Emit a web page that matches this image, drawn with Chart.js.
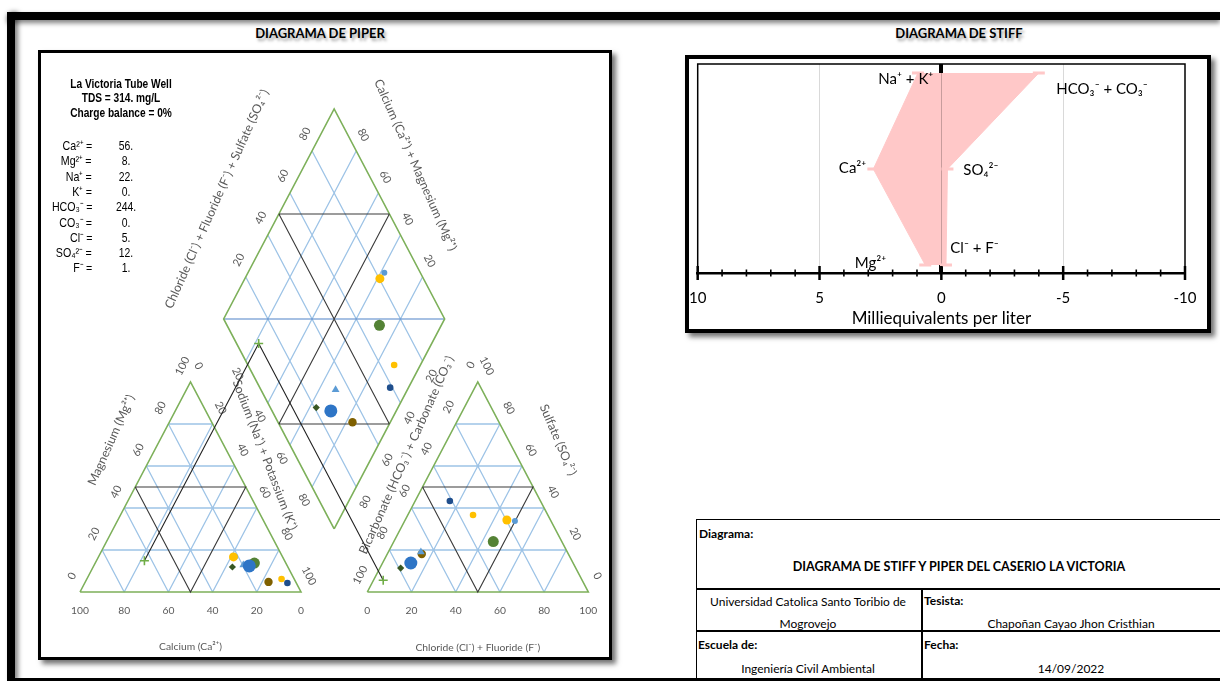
<!DOCTYPE html>
<html lang="es">
<head>
<meta charset="utf-8">
<title>Diagramas de Piper y Stiff - Caserío La Victoria</title>
<script src="https://cdn.jsdelivr.net/npm/chart.js@4.4.1/dist/chart.umd.min.js"></script>
<style>
  html, body { margin: 0; padding: 0; background: #fff; }
  body { width: 1220px; height: 681px; position: relative; overflow: hidden; font-family: Lato, "Liberation Sans", sans-serif; color: #000; }
  .abs { position: absolute; }
  .bar { background: #000; }
  .heading { font-weight: 700; font-size: 13px; white-space: nowrap; transform: translate(-50%, -50%);
             text-shadow: 2px 3px 3px rgba(0,0,0,0.35); }
  .box { box-sizing: border-box; border: 3px solid #000; background: #fff; box-shadow: 4px 4px 5px rgba(0,0,0,0.55); }
  .narrow { font-family: "Liberation Sans", Arial, sans-serif; white-space: nowrap; }
  .info-head { font-weight: 700; font-size: 13px; transform: translate(-50%, -50%) scaleX(0.78); }
  .ion { font-size: 13px; }
  .cell { font-size: 12px; white-space: nowrap; }
  .c { transform: translate(-50%, -50%); }
  .l { transform: translateY(-50%); }
  .b { font-weight: 700; }
  .line { background: #000; }
</style>
</head>
<body>

<!-- sheet frame -->
<div class="abs bar" style="left:7px;top:12px;width:1213px;height:8px;box-shadow:0 3px 5px rgba(0,0,0,0.5);"></div>
<div class="abs bar" style="left:7px;top:12px;width:8px;height:669px;box-shadow:3px 0 5px rgba(0,0,0,0.5);"></div>
<div class="abs bar" style="left:7px;top:678px;width:1213px;height:3px;"></div>

<div class="abs heading" style="left:320px;top:33px;">DIAGRAMA DE PIPER</div>
<div class="abs heading" style="left:959px;top:33px;">DIAGRAMA DE STIFF</div>

<!-- Piper panel -->
<div class="abs box" style="left:38px;top:50px;width:574px;height:610px;"></div>
<canvas id="piper" class="abs" width="568" height="604" style="left:41px;top:53px;"></canvas>
<div id="info"></div>

<!-- Stiff panel -->
<div class="abs box" style="left:685px;top:55px;width:526px;height:278px;border-width:4px;"></div>
<canvas id="stiff" class="abs" width="518" height="270" style="left:689px;top:59px;"></canvas>

<!-- title block -->
<div class="abs" style="left:696px;top:519px;width:540px;height:160px;box-sizing:border-box;border:1.5px solid #000;"></div>
<div class="abs line" style="left:696px;top:588px;width:530px;height:1.5px;"></div>
<div class="abs line" style="left:696px;top:630px;width:530px;height:1.5px;"></div>
<div class="abs line" style="left:921px;top:588px;width:1.5px;height:91px;"></div>
<div class="abs cell b l" style="left:699px;top:533px;">Diagrama:</div>
<div class="abs cell b c" style="left:959px;top:566px;font-size:12.6px;">DIAGRAMA DE STIFF Y PIPER DEL CASERIO LA VICTORIA</div>
<div class="abs cell c" style="left:808px;top:601px;">Universidad Catolica Santo Toribio de</div>
<div class="abs cell c" style="left:808px;top:623px;">Mogrovejo</div>
<div class="abs cell b l" style="left:924px;top:600px;">Tesista:</div>
<div class="abs cell c" style="left:1071px;top:623px;">Chapoñan Cayao Jhon Cristhian</div>
<div class="abs cell b l" style="left:698px;top:644px;">Escuela de:</div>
<div class="abs cell c" style="left:808px;top:668px;">Ingeniería Civil Ambiental</div>
<div class="abs cell b l" style="left:924px;top:644px;">Fecha:</div>
<div class="abs cell c" style="left:1071px;top:668px;">14/09/2022</div>

<script>
// ---------------- data ----------------
// Sample header and dissolved ions (mg/L) of the La Victoria well
const wellName = 'La Victoria Tube Well';
const wellTDS = 314;
const chargeBalance = 0;
const ionLabels = ['Ca²⁺', 'Mg²⁺', 'Na⁺', 'K⁺', 'HCO₃⁻', 'CO₃⁻', 'Cl⁻', 'SO₄²⁻', 'F⁻'];
const ionMgL = [56, 8, 22, 0, 244, 0, 5, 12, 1];

// Piper samples: percent of total meq for each ion group
const sampleIds = ['M-01', 'M-02', 'M-03', 'M-04', 'M-05', 'M-06', 'M-07', 'M-08', 'M-09', 'La Victoria'];
const caPct   = [22.2, 5.7, 4.0, 14.2, 17.2, 25.1, 12.3, 21.5, 19.7, 63.4];
const mgPct   = [16.7, 6.2, 4.3, 13.8, 12.4, 11.9, 4.8, 16.8, 12.8, 14.9];
const nakPct  = [61.1, 88.1, 91.7, 72.0, 70.4, 63.0, 82.9, 61.7, 67.5, 21.7];
const hco3Pct = [19.7, 33.8, 41.0, 31.0, 73.4, 79.2, 66.3, 16.3, 66.2, 90.0];
const so4Pct  = [34.3, 36.7, 43.3, 24.0, 13.8, 11.4, 18.1, 33.8, 19.1, 5.6];
const clPct   = [46.0, 29.5, 15.7, 45.0, 12.8, 9.4, 15.6, 49.9, 14.7, 4.4];
const projectedSample = 9; // sample drawn with projection lines

// Piper tick labels
const pctTicks = [0, 20, 40, 60, 80, 100];
const gridSteps = [20, 40, 60, 80];
const faciesSplit = 50;

// Stiff diagram (meq/L)
const stiffCationLabels = ['Na⁺ + K⁺', 'Ca²⁺', 'Mg²⁺'];
const stiffAnionLabels = ['HCO₃⁻ + CO₃⁻', 'SO₄²⁻', 'Cl⁻ + F⁻'];
const cationMeq = [0.96, 2.79, 0.66];
const anionMeq = [4.00, 0.25, 0.19];
const stiffRows = [3, 2, 1];
const stiffTicks = [10, 5, 0, -5, -10];

// ---------------- styles ----------------
const markerColor = ['#FFC000', '#FFC000', '#1F4E8C', '#548235', '#2E75C6', '#385723', '#7F6000', '#5B9BD5', '#5B9BD5', '#70AD47'];
const markerStyle = ['circle', 'circle', 'circle', 'circle', 'circle', 'rectRot', 'circle', 'circle', 'triangle', 'cross'];
const markerRadius = [4.5, 3.3, 3.3, 5.5, 6.5, 3.6, 4.2, 3.0, 4.5, 4.5];
const markerLayer = [5, 4, 3, 10, 7, 2, 9, 6, 8, 1];

// ---------------- info block ----------------
(function buildInfo() {
  const host = document.getElementById('info');
  const heads = [wellName, 'TDS = ' + wellTDS + '. mg/L', 'Charge balance = ' + chargeBalance + '%'];
  heads.forEach((t, i) => {
    const d = document.createElement('div');
    d.className = 'abs narrow info-head';
    d.style.left = '121px';
    d.style.top = (83 + i * 14.3) + 'px';
    d.textContent = t;
    host.appendChild(d);
  });
  ionLabels.forEach((lab, i) => {
    const y = 145 + i * 15.3;
    const a = document.createElement('div');
    a.className = 'abs narrow ion';
    a.style.right = (1220 - 92) + 'px';
    a.style.top = y + 'px';
    a.style.transformOrigin = 'right center';
    a.style.transform = 'translateY(-50%) scaleX(0.82)';
    a.textContent = lab + ' =';
    host.appendChild(a);
    const v = document.createElement('div');
    v.className = 'abs narrow ion';
    v.style.left = '126px';
    v.style.top = y + 'px';
    v.style.transform = 'translate(-50%, -50%) scaleX(0.8)';
    v.textContent = ionMgL[i] + '.';
    host.appendChild(v);
  });
})();

// ---------------- Piper geometry ----------------
const SIDE = 100, GAP = 30, H = Math.sqrt(3) / 2;
function cationXY(ca, mg, na) { return { x: na + 0.5 * mg, y: H * mg }; }
function anionXY(hco3, so4, cl) { return { x: SIDE + GAP + cl + 0.5 * so4, y: H * so4 }; }
function diamondXY(caMg, so4Cl) { return { x: SIDE + GAP / 2 + 0.5 * (so4Cl - caMg), y: H * GAP + H * (caMg + so4Cl) }; }

function joinLines(lines) {
  const out = [];
  lines.forEach((pl, i) => { if (i) out.push({ x: NaN, y: NaN }); pl.forEach(p => out.push(p)); });
  return out;
}
function triangleGrid(f) {
  const lines = [];
  gridSteps.forEach(p => {
    lines.push([f(100 - p, p, 0), f(0, p, 100 - p)]);
    lines.push([f(100 - p, 0, p), f(0, 100 - p, p)]);
    lines.push([f(p, 0, 100 - p), f(p, 100 - p, 0)]);
  });
  return lines;
}
function diamondGrid() {
  const lines = [];
  gridSteps.forEach(p => {
    lines.push([diamondXY(p, 0), diamondXY(p, 100)]);
    lines.push([diamondXY(0, p), diamondXY(100, p)]);
  });
  return lines;
}
const triOutline = f => [f(100, 0, 0), f(0, 100, 0), f(0, 0, 100), f(100, 0, 0)];
const triFacies = f => { const s = faciesSplit; return [f(s, s, 0), f(0, s, s), f(s, 0, s), f(s, s, 0)]; };
const diamondOutline = [diamondXY(0, 0), diamondXY(100, 0), diamondXY(100, 100), diamondXY(0, 100), diamondXY(0, 0)];
const s50 = faciesSplit;
const diamondFacies = [
  [diamondXY(100, s50), diamondXY(s50, 100)],
  [diamondXY(s50, 0), diamondXY(0, s50)],
  [diamondXY(100, s50), diamondXY(0, s50)],
  [diamondXY(s50, 100), diamondXY(s50, 0)]
];

const samplePoints = sampleIds.map((id, i) => [
  cationXY(caPct[i], mgPct[i], nakPct[i]),
  anionXY(hco3Pct[i], so4Pct[i], clPct[i]),
  diamondXY(caPct[i] + mgPct[i], so4Pct[i] + clPct[i])
]);
const proj = samplePoints[projectedSample];

function lineSet(data, color, width, order) {
  return { type: 'scatter', data, showLine: true, borderColor: color, borderWidth: width,
           pointRadius: 0, fill: false, order, spanGaps: false };
}

const piperDatasets = [
  lineSet(joinLines([...triangleGrid(cationXY), ...triangleGrid(anionXY), ...diamondGrid()]), '#9DC3E6', 1.3, 100),
  lineSet(joinLines([[diamondXY(100, 0), diamondXY(0, 100)]]), '#4F81C8', 1.1, 95),
  lineSet(joinLines([triOutline(cationXY), triOutline(anionXY), diamondOutline]), '#7DB05A', 1.6, 90),
  lineSet(joinLines([triFacies(cationXY), triFacies(anionXY), ...diamondFacies]), '#3A3A3A', 1.1, 80),
  lineSet(joinLines([[proj[0], proj[2]], [proj[1], proj[2]]]), '#222222', 1.1, 75)
];
sampleIds.forEach((id, i) => {
  const cross = markerStyle[i] === 'cross';
  piperDatasets.push({
    type: 'scatter', label: id, data: samplePoints[i],
    pointStyle: markerStyle[i], pointRadius: markerRadius[i],
    backgroundColor: markerColor[i], borderColor: markerColor[i],
    borderWidth: cross ? 1.6 : 0, order: markerLayer[i]
  });
});

// Piper axis numbers and titles
const tickLabelSets = [
  { values: pctTicks, at: p => cationXY(p, 0, 100 - p), dx: 0, dy: 18.5, rot: 0 },
  { values: pctTicks, at: p => cationXY(100 - p, p, 0), dx: -8, dy: -16, rot: -63 },
  { values: pctTicks, at: p => cationXY(0, 100 - p, p), dx: 8, dy: -16, rot: 63 },
  { values: pctTicks, at: p => anionXY(100 - p, 0, p), dx: 0, dy: 18.5, rot: 0 },
  { values: pctTicks, at: p => anionXY(p, 100 - p, 0), dx: -7, dy: -17, rot: -63 },
  { values: pctTicks, at: p => anionXY(0, p, 100 - p), dx: 9, dy: -16, rot: 63 },
  { values: gridSteps, at: p => diamondXY(100, p), dx: -7, dy: -17, rot: -63 },
  { values: gridSteps, at: p => diamondXY(p, 100), dx: 7, dy: -16, rot: 63 },
  { values: gridSteps, at: p => diamondXY(100 - p, 0), dx: -8, dy: 13, rot: 63 },
  { values: gridSteps, at: p => diamondXY(0, 100 - p), dx: 9, dy: 15, rot: -63 }
];
const axisTitles = [
  { text: 'Calcium (Ca²⁺)', at: cationXY(50, 0, 50), dx: 0, dy: 55, rot: 0 },
  { text: 'Magnesium (Mg²⁺)', at: cationXY(50, 50, 0), dx: -24, dy: -47, rot: -66 },
  { text: 'Sodium (Na⁺) + Potassium (K⁺)', at: cationXY(0, 50, 50), dx: 19, dy: -32, rot: 69 },
  { text: 'Chloride (Cl⁻) + Fluoride (F⁻)', at: anionXY(50, 0, 50), dx: 0, dy: 56, rot: 0 },
  { text: 'Bicarbonate (HCO₃⁻) + Carbonate (CO₃⁻)', at: anionXY(50, 50, 0), dx: -16, dy: -32, rot: -66 },
  { text: 'Sulfate (SO₄²⁻)', at: anionXY(0, 50, 50), dx: 25, dy: -47, rot: 67 },
  { text: 'Chloride (Cl⁻) + Fluoride (F⁻) + Sulfate (SO₄²⁻)', at: diamondXY(100, 50), dx: -62, dy: -15, rot: -66 },
  { text: 'Calcium (Ca²⁺) + Magnesium (Mg²⁺)', at: diamondXY(50, 100), dx: 26, dy: -49, rot: 66 }
];

function drawText(ctx, text, x, y, rot) {
  ctx.save();
  ctx.translate(x, y);
  ctx.rotate(rot * Math.PI / 180);
  ctx.fillText(text, 0, 0);
  ctx.restore();
}

const piperLabels = {
  id: 'piperLabels',
  beforeDatasetsDraw(chart) {
    const { ctx, scales: { x, y } } = chart;
    ctx.save();
    ctx.fillStyle = '#595959';
    ctx.textAlign = 'center';
    ctx.textBaseline = 'middle';
    tickLabelSets.forEach(set => set.values.forEach(p => {
      const pt = set.at(p);
      ctx.font = (set.rot ? '11px' : '10.3px') + ' Lato, "Liberation Sans", sans-serif';
      drawText(ctx, String(p), x.getPixelForValue(pt.x) + set.dx, y.getPixelForValue(pt.y) + set.dy, set.rot);
    }));
    axisTitles.forEach(t => {
      ctx.font = (t.rot ? '12.3px' : '10.3px') + ' Lato, "Liberation Sans", sans-serif';
      drawText(ctx, t.text, x.getPixelForValue(t.at.x) + t.dx, y.getPixelForValue(t.at.y) + t.dy, t.rot);
    });
    ctx.restore();
  }
};

// plot window of the Piper canvas (canvas spans page x 41..609, y 53..657)
const PX_PER_U = 2.21, PX_PER_V = 2.425, ORIGIN_X = 80 - 41, ORIGIN_Y = 592 - 53;
new Chart(document.getElementById('piper'), {
  type: 'scatter',
  data: { datasets: piperDatasets },
  options: {
    responsive: false, animation: false, events: [],
    layout: { padding: 0, autoPadding: false },
    plugins: { legend: { display: false }, tooltip: { enabled: false } },
    scales: {
      x: { type: 'linear', display: false, min: -ORIGIN_X / PX_PER_U, max: (568 - ORIGIN_X) / PX_PER_U },
      y: { type: 'linear', display: false, min: -(604 - ORIGIN_Y) / PX_PER_V, max: ORIGIN_Y / PX_PER_V }
    }
  },
  plugins: [piperLabels]
});

// ---------------- Stiff diagram ----------------
const PINK = '#FFC8C8';
const stiffLabelLayout = {
  cation: [{ dx: -8, dy: 6 }, { dx: -75, dy: -1 }, { dx: -55, dy: -2 }],
  anion: [{ dx: 115, dy: 16 }, { dx: 22, dy: 1 }, { dx: 9, dy: -17 }]
};

const stiffDecor = {
  id: 'stiffDecor',
  afterDraw(chart) {
    const { ctx, chartArea: a, scales: { x, y } } = chart;
    ctx.save();
    ctx.strokeStyle = '#000';
    // plot frame
    ctx.lineWidth = 1.5;
    ctx.strokeRect(a.left, a.top, a.right - a.left, a.bottom - a.top);
    // tick marks crossing the value axis
    x.ticks.forEach(t => {
      const px = x.getPixelForValue(t.value);
      const major = stiffTicks.includes(t.value);
      const h = major ? 7 : 3.5;
      ctx.lineWidth = major ? 2.5 : 1.6;
      ctx.beginPath();
      ctx.moveTo(px, a.bottom - h);
      ctx.lineTo(px, a.bottom + h);
      ctx.stroke();
    });
    // ion labels
    const x0 = x.getPixelForValue(0);
    ctx.fillStyle = '#000';
    ctx.font = '15px Lato, "Liberation Sans", sans-serif';
    ctx.textBaseline = 'middle';
    ctx.textAlign = 'right';
    stiffCationLabels.forEach((t, i) => {
      const l = stiffLabelLayout.cation[i];
      ctx.fillText(t, x0 + l.dx, y.getPixelForValue(stiffRows[i]) + l.dy);
    });
    ctx.textAlign = 'left';
    stiffAnionLabels.forEach((t, i) => {
      const l = stiffLabelLayout.anion[i];
      ctx.fillText(t, x0 + l.dx, y.getPixelForValue(stiffRows[i]) + l.dy);
    });
    ctx.restore();
  }
};

function stiffSide(values, sign) {
  return {
    data: values.map((v, i) => ({ x: sign * v, y: stiffRows[i] })),
    fill: 'origin', backgroundColor: PINK, borderColor: PINK, borderWidth: 1,
    pointStyle: 'line', pointRadius: 6, pointBorderWidth: 3, pointBorderColor: PINK, pointBackgroundColor: PINK,
    tension: 0
  };
}

new Chart(document.getElementById('stiff'), {
  type: 'line',
  data: { datasets: [stiffSide(cationMeq, 1), stiffSide(anionMeq, -1)] },
  options: {
    indexAxis: 'y',
    responsive: false, animation: false, events: [],
    layout: { padding: { left: 8.5, right: 22, top: 5, bottom: 0 }, autoPadding: false },
    plugins: { legend: { display: false }, tooltip: { enabled: false } },
    scales: {
      x: {
        type: 'linear', reverse: true, min: -10, max: 10, z: 1,
        afterFit(scale) { scale.height = 56; },
        grid: {
          drawTicks: true, tickLength: 16, tickColor: 'rgba(0,0,0,0)',
          color: c => c.tick && c.tick.value === 0 ? '#000' : (c.tick && Math.abs(c.tick.value) === 5 ? '#D9D9D9' : 'rgba(0,0,0,0)'),
          lineWidth: c => c.tick && c.tick.value === 0 ? 4 : 1
        },
        border: { display: true, color: '#000', width: 2.5 },
        ticks: {
          stepSize: 1, autoSkip: false, maxRotation: 0, padding: 0, color: '#000',
          font: { family: 'Lato', size: 15 },
          callback: v => stiffTicks.includes(v) ? String(v) : ''
        },
        title: { display: true, text: 'Milliequivalents per liter', color: '#000',
                 font: { family: 'Lato', size: 17 }, padding: { top: 0, bottom: 0 } }
      },
      y: { type: 'linear', display: false, min: 0.917, max: 3.094 }
    }
  },
  plugins: [stiffDecor]
});
</script>
</body>
</html>
